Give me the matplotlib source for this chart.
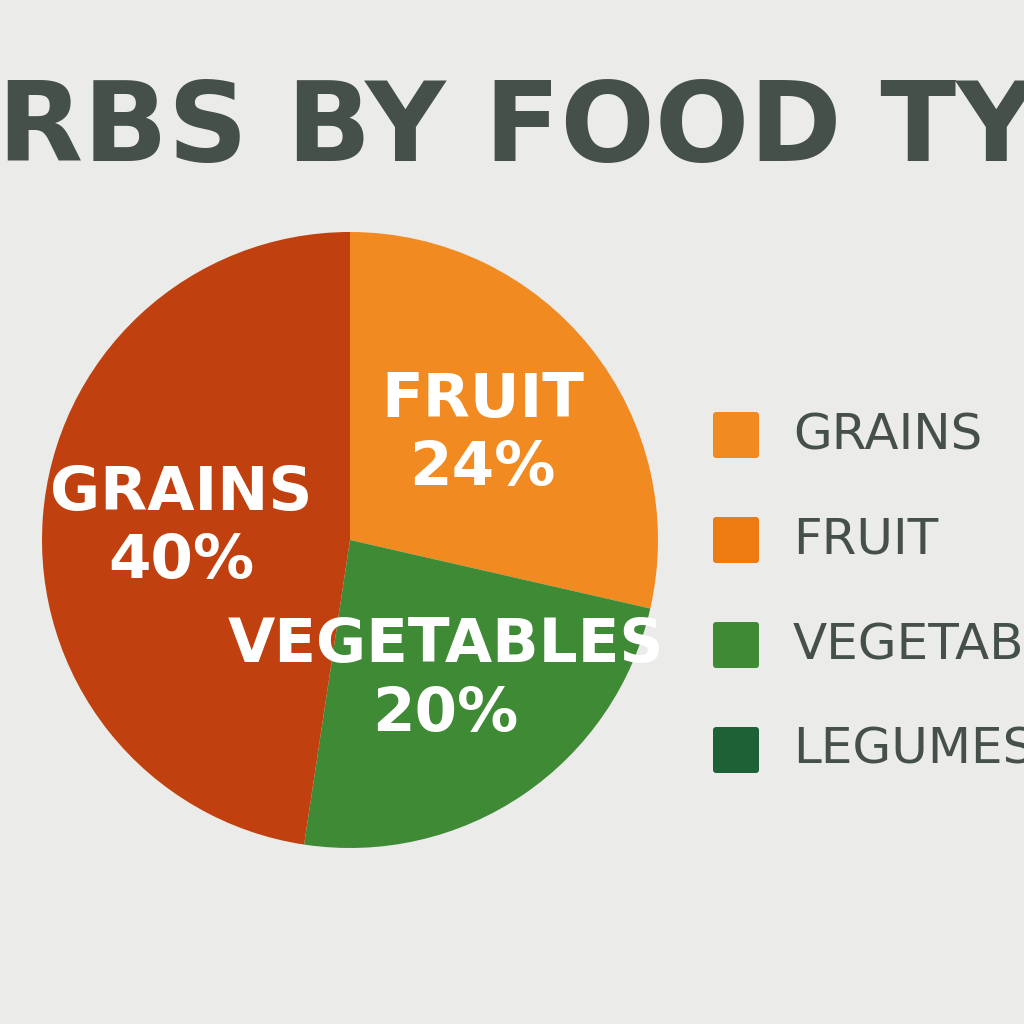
import matplotlib
matplotlib.use("Agg")
import matplotlib.pyplot as plt
import numpy as np

categories = ["FRUIT", "VEGETABLES", "GRAINS"]
values = [24, 20, 40]
slice_colors = ["#F28A22", "#3F8A35", "#C0410F"]
legend_labels = ["GRAINS", "FRUIT", "VEGETABLES", "LEGUMES"]
legend_colors = ["#F28A22", "#EE7A12", "#3F8A35", "#1F6136"]

bg = "#EBEBEA"
txt = "#46504A"
fam = ["Liberation Sans Narrow", "DejaVu Sans"]
fig = plt.figure(figsize=(10.24, 10.24), dpi=100, facecolor=bg)
fig.text(0.5, 0.873, "CARBS BY FOOD TYPE", ha="center", va="center",
         fontsize=80, fontweight="bold", color=txt, family=fam)

ax = fig.add_axes([42/1024, 1-848/1024, 616/1024, 616/1024])
ax.set_facecolor(bg)
wedges, _ = ax.pie(values, colors=slice_colors, startangle=90, counterclock=False)
ax.set_xlim(-1, 1); ax.set_ylim(-1, 1)
ax.set_aspect("equal")
for w, c, v in zip(wedges, categories, values):
    a = np.deg2rad((w.theta1 + w.theta2) / 2)
    ax.text(0.55*np.cos(a), 0.55*np.sin(a), f"{c}\n{v}%", ha="center", va="center",
            color="white", fontsize=44, fontweight="bold", family=fam, linespacing=1.2)

ys = [435, 540, 645, 750]
for y, lab, col in zip(ys, legend_labels, legend_colors):
    fig.patches.append(matplotlib.patches.FancyBboxPatch(
        (713/1024, 1-(y+23)/1024), 46/1024, 46/1024, boxstyle="round,pad=0,rounding_size=0.003",
        transform=fig.transFigure, facecolor=col, edgecolor="none"))
    fig.text(793/1024, 1-y/1024, lab, ha="left", va="center", fontsize=36,
             color=txt, family=fam)

fig.savefig("out.png", dpi=100, facecolor=bg)
